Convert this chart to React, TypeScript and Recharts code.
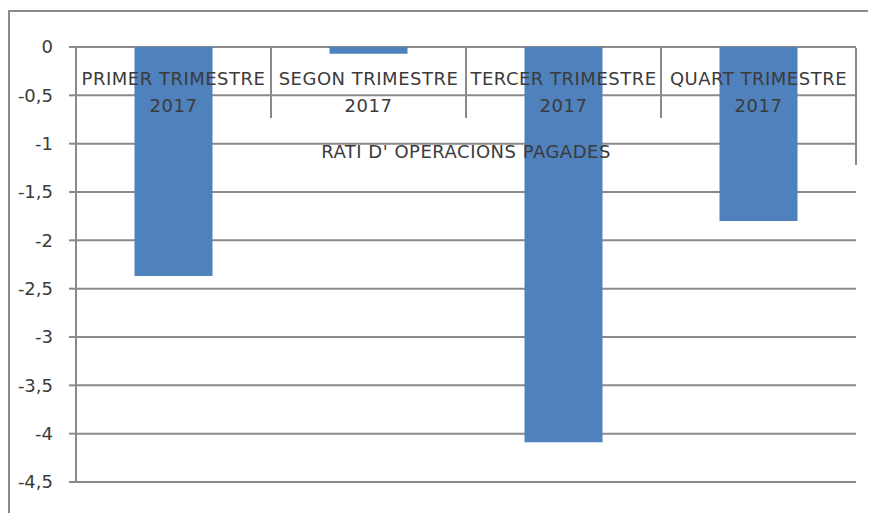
import { Bar, BarChart, CartesianGrid, XAxis, YAxis } from "recharts";

const quarters = [
  "PRIMER TRIMESTRE",
  "SEGON TRIMESTRE",
  "TERCER TRIMESTRE",
  "QUART TRIMESTRE",
];
const years = ["2017", "2017", "2017", "2017"];
const ratios = [-2.37, -0.07, -4.09, -1.8];
const yTicks = [0, -0.5, -1, -1.5, -2, -2.5, -3, -3.5, -4, -4.5];
const axisTitle = "RATI D' OPERACIONS PAGADES";

const data = quarters.map((q, i) => ({ name: q, year: years[i], value: ratios[i] }));

const chartW = 858;
const chartH = 503;
const margin = { top: 35, right: 12, bottom: 33, left: 0 };
const yAxisW = 66;
const catW = (chartW - margin.left - margin.right - yAxisW) / quarters.length;

const font = "'DejaVu Sans', sans-serif";
const fontSize = 18;
const spacing = 0.5;
const textColor = "#3b3b3b";
const lineColor = "#8a8a8a";

const CategoryTick = (props: any) => {
  const { x, y, index } = props;
  const last = index === quarters.length - 1;
  return (
    <g>
      <line
        x1={x + catW / 2}
        x2={x + catW / 2}
        y1={y}
        y2={y + (last ? 117 : 70)}
        stroke={lineColor}
        strokeWidth={2}
      />
      <text x={x} y={y + 37} textAnchor="middle" fill={textColor} fontSize={fontSize} fontFamily={font} letterSpacing={spacing}>
        {quarters[index]}
      </text>
      <text x={x} y={y + 64} textAnchor="middle" fill={textColor} fontSize={fontSize} fontFamily={font} letterSpacing={spacing}>
        {years[index]}
      </text>
    </g>
  );
};

const App = () => {
  return (
    <div
      style={{
        position: "relative",
        top: 2,
        width: 860,
        height: 505,
        borderTop: `2px solid ${lineColor}`,
        borderLeft: `2px solid ${lineColor}`,
        boxSizing: "border-box",
        background: "#fff",
      }}
    >
      {/* bars, grid and value axis */}
      <BarChart width={chartW} height={chartH} data={data} margin={margin} barCategoryGap="30%">
        <CartesianGrid vertical={false} stroke={lineColor} strokeWidth={2} />
        <XAxis dataKey="name" orientation="top" height={1} hide />
        <YAxis
          width={yAxisW}
          domain={[-4.5, 0]}
          ticks={yTicks}
          interval={0}
          tickSize={7}
          tickMargin={16}
          axisLine={{ stroke: lineColor, strokeWidth: 2 }}
          tickLine={{ stroke: lineColor, strokeWidth: 2 }}
          tick={{ fill: textColor, fontSize: fontSize, fontFamily: font }}
          tickFormatter={(v: number) => String(v).replace(".", ",")}
        />
        <Bar dataKey="value" fill="#4f81bd" isAnimationActive={false} />
      </BarChart>
      {/* category labels and axis title drawn on top of the bars */}
      <div style={{ position: "absolute", left: 0, top: 0 }}>
        <BarChart width={chartW} height={chartH} data={data} margin={margin} barCategoryGap="30%">
          <XAxis
            dataKey="name"
            orientation="top"
            height={1}
            axisLine={false}
            tickLine={false}
            tickSize={0}
            tickMargin={0}
            interval={0}
            tick={<CategoryTick />}
          />
          <YAxis width={yAxisW} domain={[-4.5, 0]} ticks={yTicks} axisLine={false} tickLine={false} tick={false} />
          <Bar dataKey="value" fill="none" isAnimationActive={false} />
          <text
            x={yAxisW + (chartW - yAxisW - margin.right) / 2}
            y={146}
            textAnchor="middle"
            fill={textColor}
            fontSize={fontSize}
            fontFamily={font}
            letterSpacing={spacing}
          >
            {axisTitle}
          </text>
        </BarChart>
      </div>
    </div>
  );
};

export default App;
